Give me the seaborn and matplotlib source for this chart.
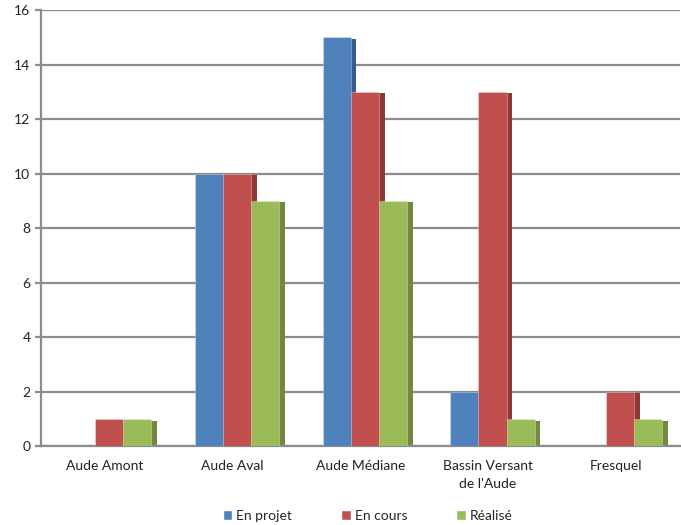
import numpy as np
import pandas as pd
import matplotlib
matplotlib.use("Agg")
import matplotlib.pyplot as plt
import matplotlib.patches as mpatches
import seaborn as sns

categories = ["Aude Amont", "Aude Aval", "Aude Médiane", "Bassin Versant\nde l'Aude", "Fresquel"]
series = ["En projet", "En cours", "Réalisé"]
en_projet = [0, 10, 15, 2, 0]
en_cours = [1, 10, 13, 13, 2]
realise = [1, 9, 9, 1, 1]

colors = ["#4F81BD", "#C0504D", "#9BBB59"]
side_colors = ["#385D8A", "#8C3836", "#71893F"]

df = pd.DataFrame({
    "cat": categories * 3,
    "serie": [s for s in series for _ in categories],
    "val": en_projet + en_cours + realise,
})

sns.set_style("white")
plt.rcParams["font.family"] = ["Lato", "DejaVu Sans"]

fig = plt.figure(figsize=(6.81, 5.25), dpi=100)
ax = fig.add_axes([0.060, 0.150, 0.938, 0.831])

sns.barplot(data=df, x="cat", y="val", hue="serie", order=categories, hue_order=series,
            palette=colors, width=0.66, gap=0, ax=ax, legend=True, saturation=1)

# 3D-like darker side on each bar, hidden behind the next bar
side_w = 0.045
for cont, sc in zip(ax.containers, side_colors):
    for p in cont.patches:
        p.set_x(p.get_x() + 0.035)
        p.set_linewidth(0.6)
        p.set_edgecolor((1, 1, 1, 0.35))
        p.set_zorder(3)
        h = p.get_height()
        if h > 0:
            ax.add_patch(mpatches.Rectangle((p.get_x() + p.get_width(), 0), side_w, h - 0.06,
                                            facecolor=sc, edgecolor="none", zorder=2.5))

ax.set_ylim(0, 16)
ax.set_xlim(-0.5, 4.5)
ax.set_yticks(np.arange(0, 17, 2))
ax.yaxis.grid(True, color="#8C8C8C", linewidth=1.6, zorder=0)
ax.set_axisbelow(True)
ax.set_xlabel("")
ax.set_ylabel("")
ax.set_xticks(np.arange(-0.5, 5, 1), minor=True)
ax.tick_params(axis="x", which="major", length=0, labelsize=10, colors="#222222", pad=10)
for t in ax.get_xticklabels():
    t.set_linespacing(1.6)
ax.tick_params(axis="x", which="minor", length=4, width=1.6, color="#8C8C8C", direction="out")
ax.tick_params(axis="y", length=4, width=1.6, color="#8C8C8C", direction="out", labelsize=10,
               labelcolor="#222222", left=True)
for s in ["top", "right"]:
    ax.spines[s].set_visible(False)
for s in ["left", "bottom"]:
    ax.spines[s].set_color("#8C8C8C")
    ax.spines[s].set_linewidth(1.6)

handles, labels = ax.get_legend_handles_labels()
ax.get_legend().remove()
fig.legend(handles, labels, loc="lower center", ncol=3, frameon=False, fontsize=10,
           bbox_to_anchor=(0.54, -0.018), handlelength=0.7, handleheight=0.7,
           handletextpad=0.3, columnspacing=3.5)

fig.savefig("out.png", dpi=100)
